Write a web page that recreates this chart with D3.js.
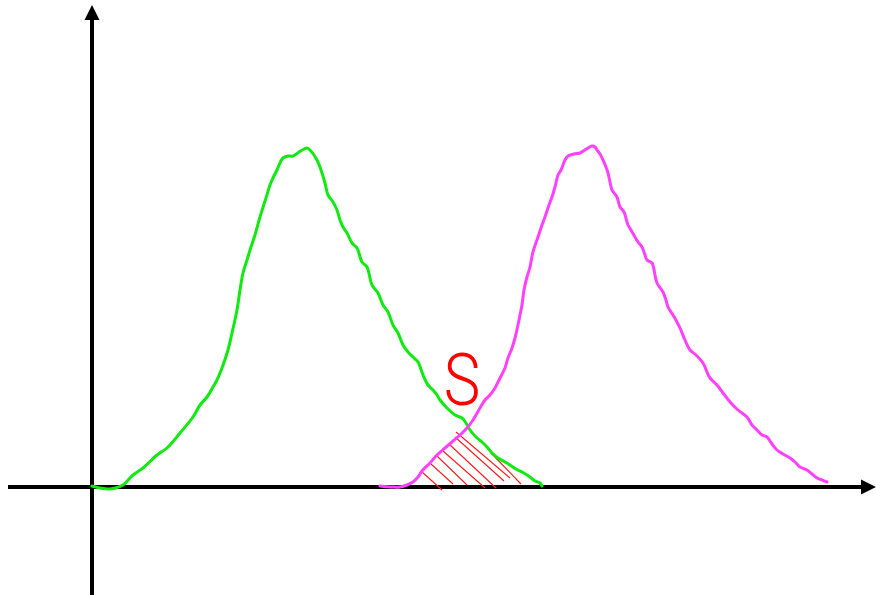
<!DOCTYPE html>
<html>
<head>
<meta charset="utf-8">
<script src="https://cdn.jsdelivr.net/npm/d3@7"></script>
<style>
  html, body { margin: 0; padding: 0; background: #fff; }
  svg { display: block; }
</style>
</head>
<body>
<svg id="chart" width="876" height="597"></svg>
<script>
// ---- data (x = distance along axis, y = height) ----
const greenCurve = [
  [0,1],[8,-1],[18,-2],[31,2],[41,12],[51,19],[65,32],[75,39],[88,54],[101,70],[108,82],[115,90],
  [121,100],[125,107],[130,119],[136,137],[140,154],[145,177],[148,197],[151,214],[155,227],[158,237],
  [163,252],[168,270],[174,289],[178,302],[181,309],[185,317],[188,324],[191,329],[196,331],[201,331],
  [207,335],[212,338],[215,339],[218,337],[225,327],[229,317],[233,304],[236,292],[241,285],[245,277],
  [248,267],[251,260],[255,254],[260,244],[265,239],[270,225],[275,220],[280,202],[286,194],[291,182],
  [296,175],[301,162],[306,154],[311,142],[316,135],[321,130],[326,125],[331,112],[336,102],[341,97],
  [345,92],[348,87],[355,79],[363,72],[370,69],[374,64],[378,57],[384,50],[390,45],[395,40],[400,34],
  [406,29],[413,25],[418,22],[424,18],[430,15],[438,10],[443,6],[448,4],[450,1]
];
const magentaCurve = [
  [288,1],[300,0],[308,0],[315,2],[321,5],[326,10],[330,16],[338,24],[345,32],[353,39],[360,45],
  [368,52],[375,59],[381,67],[388,79],[393,87],[398,92],[403,99],[408,109],[413,119],[416,129],
  [420,139],[423,149],[426,162],[428,172],[430,182],[432,197],[435,210],[438,220],[441,235],[446,250],
  [450,262],[453,270],[457,282],[460,290],[463,300],[466,312],[469,317],[471,322],[473,327],[476,331],
  [482,333],[488,334],[493,337],[496,339],[500,341],[503,340],[505,337],[508,333],[511,327],[514,320],
  [516,314],[518,305],[520,297],[522,294],[525,290],[528,280],[532,275],[536,262],[539,257],[543,250],
  [546,245],[550,240],[553,232],[555,227],[560,224],[563,212],[565,204],[571,195],[574,187],[576,180],
  [581,172],[585,165],[588,159],[593,147],[598,137],[604,132],[611,124],[615,115],[618,109],[625,102],
  [631,94],[638,85],[646,77],[655,70],[660,62],[665,57],[670,52],[675,50],[680,43],[685,37],[691,33],
  [698,29],[703,25],[708,20],[715,17],[720,13],[725,9],[730,7],[735,5]
];
// hatch strokes of the overlap area S: [x1, y1, x2, y2]
const hatchLines = [
  [329,16,350,-3],[339,23,361,3],[345,31,375,2],[351,36,393,-1],
  [357,43,404,-1],[363,50,412,6],[364,55,418,9],[399,34,429,3]
];
const xAxisExtent = [-84, 784];
const yAxisExtent = [-108, 482];
const areaLabel = { text: "S", x: 370, y: 82 };

// ---- scales ----
const x = d3.scaleLinear().domain([0, 784]).range([92, 876]);
const y = d3.scaleLinear().domain([0, 482]).range([487, 5]);

const svg = d3.select("#chart");
const arrowLen = 15, arrowHalf = 7.5;

// axes
const x0 = x(xAxisExtent[0]), x1 = x(xAxisExtent[1]);
const y0 = y(yAxisExtent[0]), y1 = y(yAxisExtent[1]);
svg.append("line")
  .attr("x1", x0).attr("y1", y(0)).attr("x2", x1 - arrowLen + 1).attr("y2", y(0))
  .attr("stroke", "#000").attr("stroke-width", 4);
svg.append("path")
  .attr("d", `M${x1},${y(0)} L${x1 - arrowLen},${y(0) - arrowHalf} L${x1 - arrowLen},${y(0) + arrowHalf} Z`)
  .attr("fill", "#000");
svg.append("line")
  .attr("x1", x(0)).attr("y1", y0).attr("x2", x(0)).attr("y2", y1 + arrowLen - 1)
  .attr("stroke", "#000").attr("stroke-width", 4);
svg.append("path")
  .attr("d", `M${x(0)},${y1} L${x(0) - arrowHalf},${y1 + arrowLen} L${x(0) + arrowHalf},${y1 + arrowLen} Z`)
  .attr("fill", "#000");

// hatching
svg.append("g").selectAll("line").data(hatchLines).join("line")
  .attr("x1", d => x(d[0])).attr("y1", d => y(d[1]))
  .attr("x2", d => x(d[2])).attr("y2", d => y(d[3]))
  .attr("stroke", "#ff1a1a").attr("stroke-width", 1.1);

// curves
const line = d3.line().x(d => x(d[0])).y(d => y(d[1])).curve(d3.curveCatmullRom.alpha(0.5));
svg.append("path").datum(greenCurve).attr("d", line)
  .attr("fill", "none").attr("stroke", "#10ea10").attr("stroke-width", 3)
  .attr("stroke-linejoin", "round").attr("stroke-linecap", "round");
svg.append("path").datum(magentaCurve).attr("d", line)
  .attr("fill", "none").attr("stroke", "#ff40ff").attr("stroke-width", 3)
  .attr("stroke-linejoin", "round").attr("stroke-linecap", "round");

// label (slightly condensed, light weight)
const lx = x(areaLabel.x), ly = y(areaLabel.y);
svg.append("text")
  .attr("transform", `translate(${lx},${ly}) scale(0.88,1.02)`)
  .attr("text-anchor", "middle")
  .attr("font-family", "Roboto, 'DejaVu Sans', sans-serif")
  .attr("font-weight", 300)
  .attr("font-size", 70)
  .attr("fill", "#ff0000")
  .text(areaLabel.text);
</script>
</body>
</html>
